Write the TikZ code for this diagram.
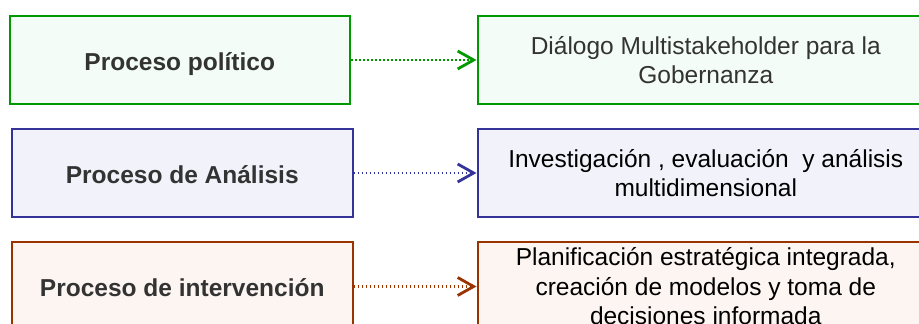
\documentclass[tikz,border=0pt]{standalone}
\usepackage{fontspec}
\setmainfont{Liberation Sans}
\usetikzlibrary{arrows.meta}
\definecolor{grnline}{RGB}{0,153,0}
\definecolor{grnfill}{RGB}{243,252,246}
\definecolor{bluline}{RGB}{51,51,153}
\definecolor{blufill}{RGB}{242,242,250}
\definecolor{brnline}{RGB}{153,51,0}
\definecolor{brnfill}{RGB}{253,245,242}
\definecolor{txtgray}{RGB}{51,51,51}
\begin{document}
\begin{tikzpicture}[x=0.5pt,y=-0.5pt,
  boxbase/.style={rectangle,draw,line width=1pt,inner sep=0pt,align=center,
    minimum height=44pt,font=\fontsize{12.25}{14.75}\selectfont},
  stagebox/.style={boxbase,minimum width=170.25pt,text=txtgray,
    text height=10.5pt,text depth=0pt,
    font=\fontsize{12.25}{14.75}\selectfont\bfseries},
  detailbox/.style={boxbase,minimum width=228.25pt},
  link/.style={line width=1.4pt,dash pattern=on 0.9pt off 1.1pt,
    -{Straight Barb[length=8pt,width=9pt,line width=1.4pt]}}]
\useasboundingbox (0,0) rectangle (919,324);
\clip (0,0) rectangle (919,324);

% left column: the three processes
\node[stagebox,draw=grnline,fill=grnfill] (pol) at (179.75,60) {Proceso político};
\node[stagebox,draw=bluline,fill=blufill] (ana) at (182.25,173) {Proceso de Análisis};
\node[stagebox,draw=brnline,fill=brnfill] (int) at (182.25,286.5) {Proceso de intervención};

% right column: what each process means
\node[detailbox,draw=grnline,fill=grnfill,text=txtgray] (dia) at (705.75,60)
  {Diálogo Multistakeholder para la\\Gobernanza};
\node[detailbox,draw=bluline,fill=blufill] (inv) at (705.75,173)
  {Investigación , evaluación \ y análisis\\multidimensional};
\node[detailbox,draw=brnline,fill=brnfill] (pla) at (705.75,286.5)
  {Planificación estratégica integrada,\\creación de modelos y toma de\\decisiones informada};

% dotted connectors
\draw[link,grnline] (pol.east) -- (dia.west);
\draw[link,bluline] (ana.east) -- (inv.west);
\draw[link,brnline] (int.east) -- (pla.west);
\end{tikzpicture}
\end{document}
